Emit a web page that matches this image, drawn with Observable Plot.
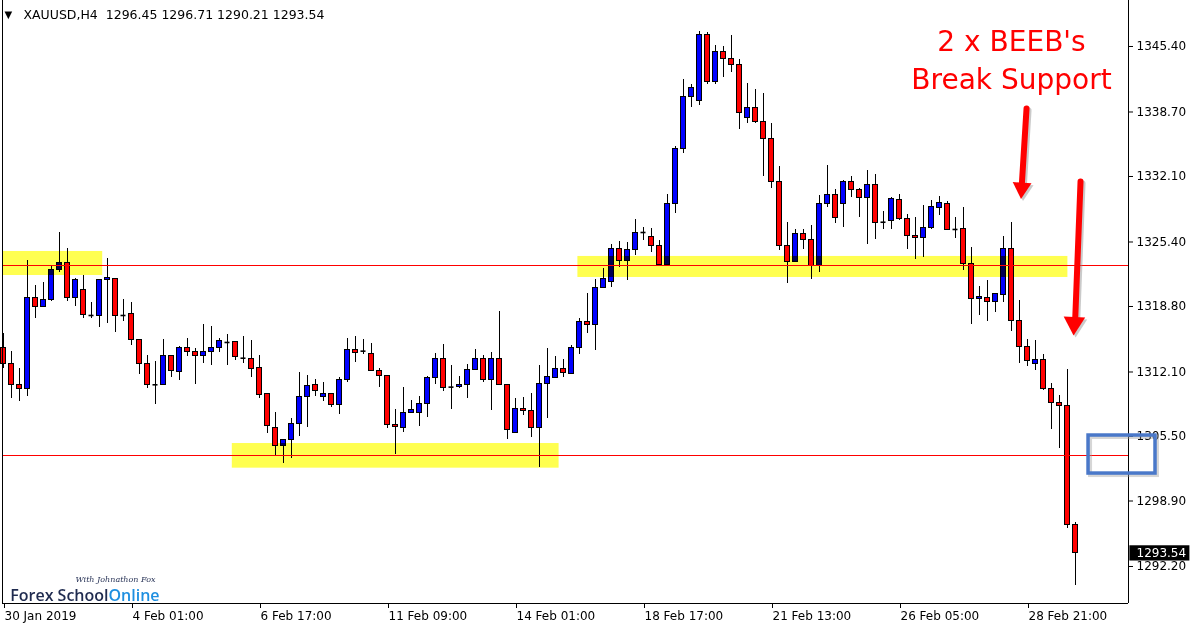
<!DOCTYPE html>
<html><head><meta charset="utf-8">
<script src="https://cdn.jsdelivr.net/npm/d3@7"></script>
<script src="https://cdn.jsdelivr.net/npm/@observablehq/plot@0.6"></script>
<style>
html,body{margin:0;padding:0;background:#fff;}
#chart{position:relative;width:1200px;height:627px;overflow:hidden;}
</style></head><body><div id="chart"></div>
<script>
// ---- Candle data (XAUUSD, H4) ----
const opens = [1314.57,1312.94,1310.79,1310.38,1319.69,1318.77,1319.44,1322.55,1323.27,1319.69,1320.51,1317.88,1317.81,1321.53,1321.64,1317.88,1318.05,1315.39,1312.94,1310.79,1310.79,1313.76,1312.08,1314.57,1314.16,1313.76,1314.16,1314.57,1315.12,1315.19,1313.51,1313.45,1312.53,1309.87,1306.39,1304.51,1305.16,1306.80,1309.56,1310.79,1309.56,1309.87,1308.74,1311.30,1314.37,1314.23,1313.96,1312.22,1311.71,1306.70,1306.39,1307.93,1307.93,1308.85,1311.51,1313.45,1310.55,1310.59,1310.79,1312.32,1313.45,1311.30,1313.45,1310.79,1305.88,1308.33,1308.13,1306.39,1310.89,1311.51,1312.43,1311.92,1314.57,1317.23,1316.93,1320.72,1321.33,1324.70,1323.47,1324.60,1326.37,1325.93,1325.01,1323.00,1329.31,1334.93,1340.25,1339.84,1346.60,1341.75,1344.82,1344.14,1343.53,1338.07,1339.13,1337.70,1335.96,1331.53,1324.99,1323.33,1326.24,1325.62,1322.96,1329.31,1330.23,1329.31,1331.56,1330.74,1329.92,1331.25,1327.42,1327.57,1329.72,1327.77,1326.03,1325.83,1326.85,1328.90,1329.31,1326.68,1326.75,1323.17,1319.59,1319.69,1319.28,1320.00,1324.70,1317.34,1314.68,1312.94,1313.35,1310.34,1308.95,1308.60,1296.45];
const highs = [1316.01,1314.20,1312.43,1323.51,1320.95,1321.22,1322.89,1326.40,1324.70,1321.64,1321.97,1319.18,1321.53,1323.68,1321.64,1319.49,1319.24,1315.39,1313.78,1313.17,1315.42,1313.76,1314.67,1315.50,1314.50,1316.96,1316.75,1315.52,1315.94,1315.19,1315.73,1315.32,1313.78,1309.87,1307.96,1305.16,1307.34,1312.05,1311.71,1311.33,1310.99,1309.87,1311.57,1315.50,1315.73,1315.39,1314.98,1312.43,1311.71,1308.26,1310.48,1309.18,1309.56,1311.67,1313.99,1314.91,1312.76,1311.64,1312.90,1314.40,1313.78,1314.09,1318.29,1310.79,1309.39,1309.49,1309.87,1312.76,1314.47,1313.68,1313.35,1314.78,1317.54,1320.10,1321.53,1322.66,1325.11,1325.42,1325.31,1327.67,1326.85,1326.75,1325.52,1330.29,1335.17,1342.02,1341.48,1346.93,1346.80,1345.50,1345.40,1346.53,1344.04,1341.61,1341.00,1340.59,1337.52,1333.16,1327.42,1326.68,1326.68,1327.09,1330.16,1333.22,1330.74,1331.69,1332.10,1330.90,1332.71,1332.31,1328.52,1329.92,1330.23,1328.18,1327.87,1329.10,1329.61,1330.02,1329.51,1327.87,1328.90,1324.81,1320.85,1321.46,1320.10,1325.96,1327.36,1319.41,1315.39,1315.29,1313.89,1310.92,1309.67,1312.35,1296.71];
const lows = [1312.46,1309.42,1309.11,1309.62,1317.54,1318.75,1319.34,1322.31,1319.34,1318.80,1317.60,1317.54,1316.68,1317.05,1316.15,1317.23,1314.81,1311.84,1310.45,1308.74,1310.79,1311.57,1311.27,1313.71,1310.79,1313.00,1312.73,1314.06,1312.79,1313.31,1313.00,1311.57,1309.36,1305.78,1303.56,1302.77,1303.28,1305.49,1306.39,1309.62,1309.11,1308.44,1307.79,1311.05,1313.10,1313.86,1312.12,1310.55,1306.29,1303.69,1305.94,1307.83,1306.55,1307.47,1310.85,1310.14,1308.29,1310.38,1309.42,1312.22,1311.05,1308.19,1310.79,1305.16,1305.78,1307.68,1305.37,1302.36,1307.37,1311.51,1311.49,1311.92,1313.86,1316.01,1314.27,1320.72,1320.72,1322.76,1321.43,1323.99,1325.52,1324.29,1322.96,1323.00,1328.35,1334.48,1339.19,1339.39,1341.48,1341.48,1342.26,1342.77,1336.94,1337.55,1337.55,1332.13,1330.84,1324.56,1321.12,1323.33,1324.60,1321.59,1322.31,1328.96,1327.33,1326.85,1329.98,1327.94,1325.17,1325.68,1326.71,1326.71,1327.57,1324.60,1323.58,1323.78,1326.65,1328.08,1326.54,1325.79,1322.48,1316.96,1317.88,1317.30,1318.22,1319.24,1316.28,1313.00,1312.69,1312.28,1310.24,1306.25,1304.30,1296.06,1290.21];
const closes = [1312.94,1310.79,1310.38,1319.69,1318.77,1319.49,1322.55,1323.27,1319.69,1321.46,1317.95,1317.88,1321.53,1321.74,1317.81,1317.88,1315.39,1312.94,1310.79,1310.79,1313.76,1312.25,1314.57,1314.16,1313.76,1314.16,1314.57,1315.29,1315.12,1313.65,1313.51,1312.43,1309.77,1306.55,1304.51,1305.16,1306.80,1309.56,1310.69,1310.17,1309.87,1308.74,1311.30,1314.37,1314.06,1314.23,1312.22,1311.71,1306.70,1306.49,1307.93,1308.23,1308.85,1311.51,1313.45,1310.48,1310.55,1310.79,1312.32,1313.45,1311.30,1313.45,1310.79,1306.19,1308.33,1308.13,1306.39,1310.89,1311.61,1312.43,1312.00,1314.57,1317.23,1316.93,1320.72,1321.64,1324.70,1323.47,1324.60,1326.34,1326.37,1325.01,1323.07,1329.31,1334.93,1340.25,1341.17,1346.60,1341.75,1344.82,1344.14,1343.53,1338.62,1339.13,1337.66,1335.96,1331.53,1324.99,1323.35,1326.24,1325.62,1322.96,1329.31,1330.23,1327.88,1331.56,1330.74,1329.92,1331.25,1327.36,1327.42,1329.82,1327.77,1326.03,1325.83,1326.85,1329.00,1329.41,1326.65,1326.68,1323.17,1319.59,1319.79,1319.28,1320.10,1324.70,1317.34,1314.68,1313.24,1313.35,1310.34,1308.95,1308.60,1296.45,1293.54];

// ---- Axis ticks ----
const timeTickIndex = [0,16,32,48,64,80,96,112,128];
const timeTickLabels = ["30 Jan 2019","4 Feb 01:00","6 Feb 17:00","11 Feb 09:00","14 Feb 01:00","18 Feb 17:00","21 Feb 13:00","26 Feb 05:00","28 Feb 21:00"];
const priceTicks = [1345.40,1338.70,1332.10,1325.40,1318.80,1312.10,1305.50,1298.90,1292.20];

// ---- Levels and zones ----
const levelPrices = [1322.99, 1303.52];
const zoneStart = [-0.1, 28.6, 71.8];
const zoneEnd = [12.4, 69.45, 133.05];
const zoneLow = [1321.97, 1302.26, 1321.77];
const zoneHigh = [1324.43, 1304.78, 1323.92];

// ---- Annotations ----
const titleText = "XAUUSD,H4\u00a0\u00a01296.45 1296.71 1290.21 1293.54";
const noteText = "2 x BEEB's\nBreak Support";
const noteX = [126.0];
const noteY = [1341.07];
const arrowX1 = [127.88, 134.63];
const arrowY1 = [1339.06, 1331.59];
const arrowX2 = [127.27, 133.95];
const arrowY2 = [1331.0, 1317.2];
const headX = [127.28, 133.83];
const headY = [1330.91, 1317.10];
const headR = [7, 8];
const headRotate = [183.8, 182.6];
const boxX1 = [135.63], boxX2 = [144.0], boxY1 = [1301.71], boxY2 = [1305.60];

// ---- Build tables ----
const xDomain = [-0.125, 140.625];
const yDomain = [1288.414, 1350.106];
const candles = opens.map((o, i) => ({i, open: o, high: highs[i], low: lows[i], close: closes[i]}));
const bodies = candles.filter(d => Math.abs(d.open - d.close) >= 0.05);
const dojis = candles.filter(d => Math.abs(d.open - d.close) < 0.05);
const zones = zoneStart.map((s, k) => ({x1: s, x2: zoneEnd[k], y1: zoneLow[k], y2: zoneHigh[k]}));
const arrows = arrowX1.map((x, k) => ({x1: x, y1: arrowY1[k], x2: arrowX2[k], y2: arrowY2[k], hx: headX[k], hy: headY[k], r: headR[k], rot: headRotate[k]}));
const boxes = boxX1.map((x, k) => ({x1: x, x2: boxX2[k], y1: boxY1[k], y2: boxY2[k]}));
const last = candles[candles.length - 1];
const hw = 0.3125;

const chart = Plot.plot({
  width: 1200, height: 627,
  marginLeft: 2, marginRight: 72, marginTop: 0, marginBottom: 24,
  x: {domain: xDomain, axis: null},
  y: {domain: yDomain, axis: null},
  r: {type: "identity"},
  color: {type: "identity"},
  style: {fontFamily: "DejaVu Sans", fontSize: "12px", color: "black", background: "white"},
  marks: [
    // wicks
    Plot.ruleX(candles, {x: "i", y1: "low", y2: "high", stroke: "black", strokeWidth: 1, shapeRendering: "crispEdges"}),
    // bodies
    Plot.rect(bodies, {x1: d => d.i - hw, x2: d => d.i + hw, y1: "open", y2: "close",
      fill: d => d.close > d.open ? "#0000ff" : "#ff0000", stroke: "black", strokeWidth: 1, shapeRendering: "crispEdges"}),
    // doji
    Plot.ruleY(dojis, {y: "open", x1: d => d.i - hw, x2: d => d.i + hw, stroke: "black", strokeWidth: 1.6}),
    // yellow zones (multiply like MT4)
    Plot.rect(zones, {x1: "x1", x2: "x2", y1: "y1", y2: "y2", fill: "#ffff50", mixBlendMode: "multiply"}),
    // horizontal levels
    Plot.ruleY(levelPrices, {stroke: "#ff0000", strokeWidth: 1, shapeRendering: "crispEdges"}),
    // chart border: left, right, bottom
    Plot.ruleX(xDomain, {stroke: "black", shapeRendering: "crispEdges"}),
    Plot.ruleY([yDomain[0]], {stroke: "black", shapeRendering: "crispEdges"}),
    // axes
    Plot.axisY(priceTicks, {anchor: "right", tickSize: 4, tickPadding: 4, tickFormat: d => d.toFixed(2), fontSize: 12}),
    Plot.axisX(timeTickIndex, {anchor: "bottom", tickSize: 5, tickPadding: 3, textAnchor: "start", dx: 1,
      tickFormat: d => timeTickLabels[timeTickIndex.indexOf(d)], fontSize: 12}),
    // current price box
    Plot.rect([last], {x1: () => 140.8, x2: () => 148.3, y1: d => d.close - 0.78, y2: d => d.close + 0.78, fill: "black"}),
    Plot.text([last], {x: () => 140.625, y: "close", text: d => d.close.toFixed(2), dx: 8, textAnchor: "start", fill: "white", fontSize: 12}),
    // title
    Plot.text(["\u25BC"], {frameAnchor: "top-left", dx: 2, dy: 10, textAnchor: "start", lineAnchor: "top", fontSize: 10, fill: "black"}),
    Plot.text([titleText], {frameAnchor: "top-left", dx: 21, dy: 10, textAnchor: "start", lineAnchor: "top", fontSize: 12.5, fill: "black"}),
    // annotation text
    Plot.text([noteText], {x: () => noteX[0], y: () => noteY[0], text: d => d, textAnchor: "middle", lineAnchor: "bottom",
      lineHeight: 1.343, fontSize: 28, fill: "#ff0000"}),
    // arrows: shadow, shaft, head
    Plot.link(arrows, {x1: "x1", y1: "y1", x2: "x2", y2: "y2", stroke: "#8a8a8a", strokeOpacity: 0.45, strokeWidth: 6, strokeLinecap: "round", dx: 2, dy: 2}),
    Plot.dot(arrows, {x: "hx", y: "hy", r: "r", rotate: "rot", symbol: "triangle", fill: "#8a8a8a", fillOpacity: 0.45, stroke: "none", dx: 2, dy: 2}),
    Plot.link(arrows, {x1: "x1", y1: "y1", x2: "x2", y2: "y2", stroke: "#ff0000", strokeWidth: 6, strokeLinecap: "round"}),
    Plot.dot(arrows, {x: "hx", y: "hy", r: "r", rotate: "rot", symbol: "triangle", fill: "#ff0000", stroke: "none"}),
    // blue box
    Plot.rect(boxes, {x1: "x1", x2: "x2", y1: "y1", y2: "y2", fill: "none", stroke: "#999", strokeOpacity: 0.4, strokeWidth: 4, dx: 2, dy: 2}),
    Plot.rect(boxes, {x1: "x1", x2: "x2", y1: "y1", y2: "y2", fill: "none", stroke: "#4a78c9", strokeWidth: 3.5}),
    // logo
    Plot.text(["Forex School"], {frameAnchor: "bottom-left", dx: 106, dy: -3, textAnchor: "end", lineAnchor: "bottom",
      fontSize: 16, fontWeight: 600, fontFamily: "Open Sans", fill: "#1f2b4f"}),
    Plot.text(["Online"], {frameAnchor: "bottom-left", dx: 106, dy: -3, textAnchor: "start", lineAnchor: "bottom",
      fontSize: 16, fontWeight: 600, fontFamily: "Open Sans", fill: "#1e8fe0"}),
    Plot.text(["With Johnathon Fox"], {frameAnchor: "bottom-left", dx: 73, dy: -22, textAnchor: "start", lineAnchor: "bottom",
      fontSize: 8, fontStyle: "italic", fontFamily: "DejaVu Serif", fill: "#2a3558"})
  ]
});
document.getElementById("chart").appendChild(chart);
</script>
</body></html>
